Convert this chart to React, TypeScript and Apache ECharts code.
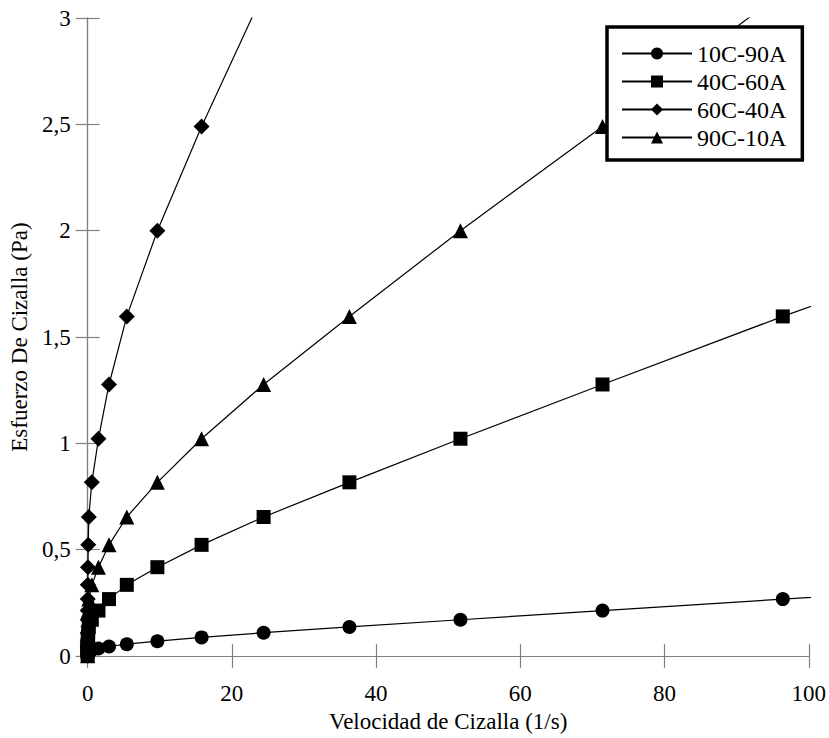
import React, { useEffect, useRef } from "react";
import * as echarts from "echarts";

// 10C-90A (circles)
const circlesX = [0, 0.01, 0.03, 0.06, 0.1, 0.2, 0.58, 1.5, 2.96, 5.43, 9.67, 15.8, 24.4, 36.3, 51.7, 71.4, 96.4, 130];
const circlesY = [0.002, 0.005, 0.009, 0.014, 0.018, 0.023, 0.029, 0.036, 0.045, 0.056, 0.07, 0.088, 0.11, 0.137, 0.171, 0.214, 0.268, 0.335];

// 40C-60A (squares)
const squaresX = [0, 0.0005, 0.001, 0.002, 0.004, 0.006, 0.01, 0.02, 0.04, 0.08, 0.16, 0.58, 1.5, 2.96, 5.43, 9.67, 15.8, 24.4, 36.3, 51.7, 71.4, 96.4, 130];
const squaresY = [0.002, 0.018, 0.023, 0.029, 0.036, 0.045, 0.056, 0.07, 0.088, 0.11, 0.137, 0.171, 0.214, 0.268, 0.335, 0.418, 0.523, 0.654, 0.817, 1.022, 1.277, 1.597, 2.0];

// 60C-40A (diamonds)
const diamondsX = [0, 0.0005, 0.001, 0.002, 0.003, 0.005, 0.01, 0.02, 0.04, 0.08, 0.16, 0.58, 1.5, 2.96, 5.43, 9.67, 15.8, 24.4, 36.3];
const diamondsY = [0.002, 0.045, 0.07, 0.11, 0.171, 0.214, 0.268, 0.335, 0.418, 0.523, 0.654, 0.817, 1.022, 1.277, 1.597, 2.0, 2.49, 3.12, 3.9];

// 90C-10A (triangles)
const trianglesX = [0, 0.0005, 0.001, 0.002, 0.004, 0.006, 0.01, 0.02, 0.04, 0.08, 0.16, 0.58, 1.5, 2.96, 5.43, 9.67, 15.8, 24.4, 36.3, 51.7, 71.4, 96.4];
const trianglesY = [0.002, 0.036, 0.045, 0.056, 0.07, 0.088, 0.11, 0.137, 0.171, 0.214, 0.268, 0.335, 0.418, 0.523, 0.654, 0.817, 1.022, 1.277, 1.597, 2.0, 2.49, 3.12];

const seriesNames = ["10C-90A", "40C-60A", "60C-40A", "90C-10A"];
const xTitle = "Velocidad de Cizalla (1/s)";
const yTitle = "Esfuerzo De Cizalla (Pa)";

const FONT = "'Liberation Serif', 'Times New Roman', serif";
const GRAY = "#808080";

function zip(xs: number[], ys: number[]) {
  return xs.map((x, i) => [x, ys[i]]);
}

export default function App() {
  const ref = useRef<HTMLDivElement>(null);
  useEffect(() => {
    document.body.style.margin = "0";
    if (!ref.current) return;
    const chart = echarts.init(ref.current, null, { renderer: "svg" });
    const axisCommon = {
      axisLine: { show: true, lineStyle: { color: GRAY, width: 1.2 } },
      axisTick: { show: true, inside: true, length: 12, lineStyle: { color: GRAY, width: 1.2 } },
      splitLine: { show: false },
    };
    const mk = (name: string, xs: number[], ys: number[], symbol: string, size: number) => ({
      name,
      type: "line",
      data: zip(xs, ys),
      symbol,
      symbolSize: size,
      showSymbol: true,
      clip: true,
      lineStyle: { color: "#000", width: 1.2 },
      itemStyle: { color: "#000" },
      xAxisIndex: 0,
      yAxisIndex: 0,
    });
    chart.setOption({
      animation: false,
      backgroundColor: "#fff",
      textStyle: { fontFamily: FONT },
      grid: { left: 87, right: 19, top: 18, bottom: 78, containLabel: false },
      legend: {
        data: seriesNames,
        orient: "vertical",
        left: 607,
        top: 27,
        padding: [14, 16, 10, 14],
        itemWidth: 70,
        itemHeight: 15,
        itemGap: 3,
        borderColor: "#000",
        borderWidth: 3.5,
        backgroundColor: "#fff",
        textStyle: { fontFamily: FONT, fontSize: 24, color: "#000", lineHeight: 25 },
      },
      xAxis: [
        {
          type: "value",
          min: 0,
          max: 100,
          interval: 20,
          position: "bottom",
          ...axisCommon,
          axisLabel: { margin: 26, fontSize: 23, color: "#000", fontFamily: FONT },
          name: xTitle,
          nameLocation: "middle",
          nameGap: 51,
          nameTextStyle: { fontSize: 23, color: "#000", fontFamily: FONT },
        },
        {
          type: "value",
          min: 0,
          max: 100,
          interval: 20,
          position: "top",
          ...axisCommon,
          axisLabel: { show: false },
        },
      ],
      yAxis: [
        {
          type: "value",
          min: 0,
          max: 3,
          interval: 0.5,
          position: "left",
          ...axisCommon,
          axisLabel: {
            margin: 17,
            fontSize: 23,
            color: "#000",
            fontFamily: FONT,
            formatter: (v: number) => String(v).replace(".", ","),
          },
          name: yTitle,
          nameLocation: "middle",
          nameGap: 55,
          nameTextStyle: { fontSize: 23, color: "#000", fontFamily: FONT },
        },
        {
          type: "value",
          min: 0,
          max: 3,
          interval: 0.5,
          position: "right",
          ...axisCommon,
          axisLabel: { show: false },
        },
      ],
      series: [
        mk(seriesNames[0], circlesX, circlesY, "circle", 14),
        mk(seriesNames[1], squaresX, squaresY, "rect", 14),
        mk(seriesNames[2], diamondsX, diamondsY, "diamond", 16),
        mk(seriesNames[3], trianglesX, trianglesY, "triangle", 15),
      ],
    });
    return () => chart.dispose();
  }, []);
  return <div ref={ref} style={{ width: 829, height: 738 }} />;
}
